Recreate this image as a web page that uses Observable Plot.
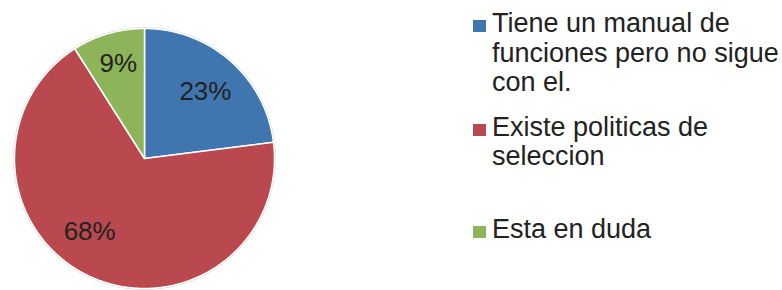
<!DOCTYPE html>
<html><head><meta charset="utf-8">
<script src="https://cdn.jsdelivr.net/npm/d3@7"></script>
<script src="https://cdn.jsdelivr.net/npm/@observablehq/plot@0.6"></script>
<style>
body{margin:0;background:#fff;font-family:"Liberation Sans",Arial,sans-serif;}
#wrap{display:flex;width:782px;height:290px;overflow:hidden;}
#legend{margin-left:173px;padding-top:9px;font-size:27px;line-height:29.5px;color:#222;white-space:nowrap;}
.item{position:relative;padding-left:19px;}
.sw{position:absolute;left:0;top:11px;width:13px;height:12px;}
</style></head><body><div id="wrap"><div id="chart"></div><div id="legend"></div></div>
<script>
const categories = ["Tiene un manual de funciones pero no sigue con el.", "Existe politicas de seleccion", "Esta en duda"];
const legendLines = [["Tiene un manual de", "funciones pero no sigue", "con el."], ["Existe politicas de", "seleccion"], ["Esta en duda"]];
const values = [23, 68, 9];
const labels = ["23%", "68%", "9%"];
const colors = ["#4076b0", "#b9494f", "#8db459"];

const arcs = d3.pie().sort(null).value(d => d)(values);
const pts = [];
const rim = [];
arcs.forEach((a, i) => {
  pts.push({cat: categories[i], x: 0, y: 0});
  const n = Math.max(2, Math.ceil((a.endAngle - a.startAngle) / 0.01));
  for (let k = 0; k <= n; k++) {
    const t = a.startAngle + (a.endAngle - a.startAngle) * k / n;
    pts.push({cat: categories[i], x: Math.sin(t), y: Math.cos(t)});
    rim.push({x: Math.sin(t), y: Math.cos(t)});
  }
});
const labelData = arcs.map((a, i) => {
  const m = (a.startAngle + a.endAngle) / 2;
  return {text: labels[i], x: 0.72 * Math.sin(m), y: 0.72 * Math.cos(m)};
});
// small label nudges (Excel "best fit" placement), in pixels
const nudges = [[-1, 3], [-15, -12], [0, -5]];

const chart = Plot.plot({
  width: 300, height: 290,
  marginLeft: 14, marginRight: 26, marginTop: 28, marginBottom: 2,
  x: {domain: [-1, 1], axis: null},
  y: {domain: [-1, 1], axis: null},
  color: {domain: categories, range: colors},
  marks: [
    Plot.line(rim, {x: "x", y: "y", stroke: "#d4d4d4", strokeWidth: 2.5, curve: "linear-closed"}),
    Plot.line(pts, {x: "x", y: "y", z: "cat", fill: "cat", stroke: "white", strokeWidth: 1.5, curve: "linear-closed"}),
    ...labelData.map((d, i) => Plot.text([d], {x: "x", y: "y", text: "text", dx: nudges[i][0], dy: nudges[i][1], fontSize: 26, fill: "#222", fontFamily: "Liberation Sans, Arial, sans-serif"}))
  ]
});
document.getElementById("chart").appendChild(chart);

const leg = document.getElementById("legend");
const margins = [0, 15, 43];
legendLines.forEach((lines, i) => {
  const d = document.createElement("div");
  d.className = "item";
  d.style.marginTop = margins[i] + "px";
  const sw = document.createElement("span");
  sw.className = "sw";
  sw.style.background = colors[i];
  d.appendChild(sw);
  lines.forEach((l, j) => {
    if (j) d.appendChild(document.createElement("br"));
    d.appendChild(document.createTextNode(l));
  });
  leg.appendChild(d);
});
</script></body></html>
